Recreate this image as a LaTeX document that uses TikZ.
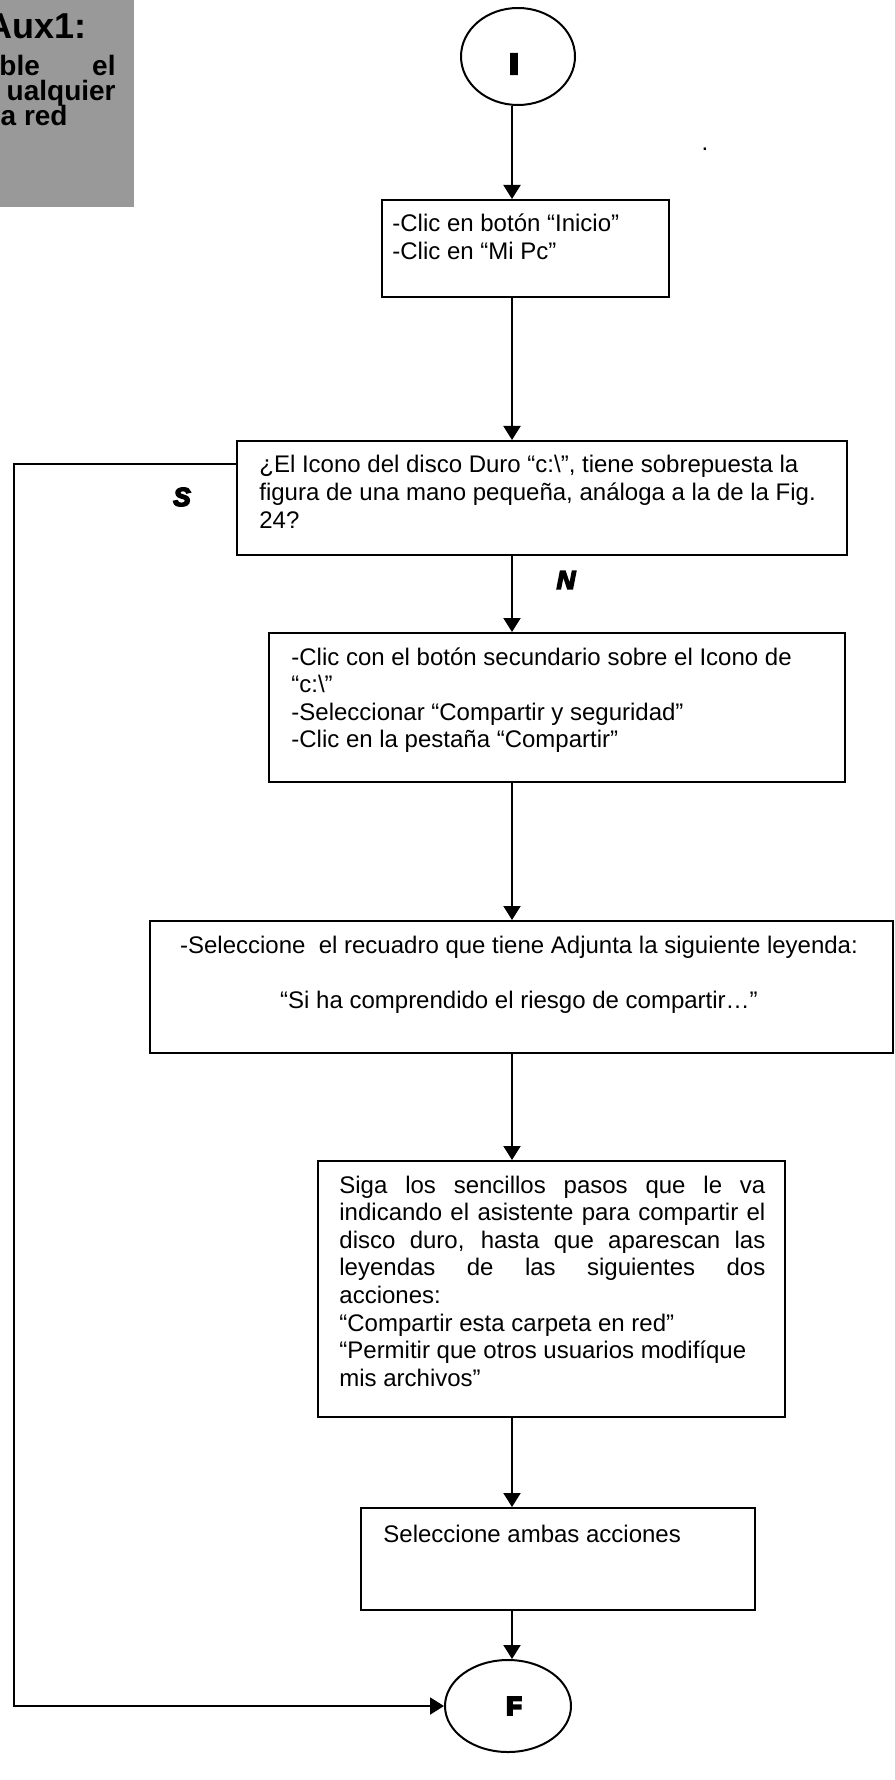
\documentclass[tikz,border=0pt]{standalone}
\usepackage{fontspec}
\setmainfont{Liberation Sans}
\newfontface\heavyface[FakeBold=10]{Liberation Sans Bold}
\newfontface\heavierface[FakeBold=16]{Liberation Sans Bold}
\newfontface\heavyslant[FakeBold=6]{Liberation Sans Bold Italic}
\usetikzlibrary{arrows.meta,shapes.geometric,fit}
\definecolor{panelgray}{RGB}{153,153,153}

\tikzset{
  stepbox/.style={draw, line width=1pt, inner sep=0pt},
  terminal/.style={draw, ellipse, line width=1pt, inner sep=0pt},
  flow/.style={line width=1pt, -{Triangle[length=7pt,width=8.5pt]}},
  body/.style={inner sep=0pt, font=\fontsize{12}{13.8}\selectfont},
  panel/.style={inner sep=0pt, font=\fontsize{14}{16}\selectfont\bfseries},
  endmark/.style={inner sep=0pt, font=\fontsize{12.5}{14}\selectfont\heavyface},
  branch/.style={inner sep=0pt, font=\fontsize{13}{15}\selectfont\heavyslant},
}

\begin{document}
\begin{tikzpicture}[x=0.5pt, y=-0.5pt]
  \useasboundingbox (0,0) rectangle (894,1780);
  \clip (0,0) rectangle (894,1780);

  % clipped title panel in the corner
  \fill[panelgray] (0,0) rectangle (134,207);
  \node[inner sep=0pt, font=\fontsize{18}{20}\selectfont\bfseries, anchor=base east] (aux) at (87,39) {Aux1:};
  \node[panel, anchor=base west] (ble) at (-1,76) {ble};
  \node[panel, anchor=base east] (el) at (116,76) {el};
  \node[panel, anchor=base east] (ualq) at (116,101) {ualquier};
  \node[panel, anchor=base east] (ared) at (68,126) {a red};

  % vertical axis of the main flow
  \coordinate (axis) at (512,0);

  % start
  \node[terminal, minimum width=57pt, minimum height=48.5pt] (I) at (518,56.5) {};
  \node[inner sep=0pt, font=\fontsize{13}{15}\selectfont\heavierface] (Itext) at (514,64) {I};
  \node[body, anchor=base] (dot) at (705,151) {.};

  % step boxes
  \node[stepbox, fit={(382,200) (669,297)}] (b1) {};
  \node[body, anchor=base west] (t1) at (392,232)
    {\parbox[t]{135pt}{-Clic en botón “Inicio”\\-Clic en “Mi Pc”}};

  \node[stepbox, fit={(237,441) (847,555)}] (b2) {};
  \node[body, anchor=base west] (t2) at (259,473)
    {\parbox[t]{292pt}{¿El Icono del disco Duro “c:\textbackslash”, tiene sobrepuesta la\\
      figura de una mano pequeña, análoga a la de la Fig.\\24?}};

  \node[stepbox, fit={(269,633) (845,782)}] (b3) {};
  \node[body, anchor=base west] (t3) at (291,665)
    {\parbox[t]{272pt}{-Clic con el botón secundario sobre el Icono de\\
      “c:\textbackslash”\\-Seleccionar “Compartir y seguridad”\\-Clic en la pestaña “Compartir”}};

  \node[stepbox, fit={(150,921) (893,1053)}] (b4) {};
  \node[body, anchor=base] (t4) at (519,953)
    {\parbox[t]{345pt}{\centering -Seleccione\ \ el recuadro que tiene Adjunta la siguiente leyenda:\\[13.8pt]
      “Si ha comprendido el riesgo de compartir…”}};

  \node[stepbox, fit={(318,1161) (785,1417)}] (b5) {};
  \node[body, anchor=base west] (t5) at (339,1193)
    {\parbox[t]{213pt}{\tolerance=9999 \hyphenpenalty=10000
      Siga los sencillos pasos que le va\linebreak
      indicando el asistente para compartir el\linebreak
      disco duro, hasta que aparescan las\linebreak
      leyendas de las siguientes dos\linebreak
      acciones:\\
      “Compartir esta carpeta en red”\\
      “Permitir que otros usuarios modifíque\\
      mis archivos”}};

  \node[stepbox, fit={(361,1508) (755,1610)}] (b6) {};
  \node[body, anchor=base west] (t6) at (383,1542) {Seleccione ambas acciones};

  % end
  \node[terminal, minimum width=63pt, minimum height=46pt] (F) at (508,1706) {};
  \node[endmark] (Ftext) at (514,1706) {F};

  % branch labels
  \node[branch] (yes) at (182,497) {S};
  \node[branch] (no) at (566,580) {N};

  % main connectors
  \draw[flow] (I.south -| axis) -- (b1.north -| axis);
  \draw[flow] (b1.south -| axis) -- (b2.north -| axis);
  \draw[flow] (b2.south -| axis) -- (b3.north -| axis);
  \draw[flow] (b3.south -| axis) -- (b4.north -| axis);
  \draw[flow] (b4.south -| axis) -- (b5.north -| axis);
  \draw[flow] (b5.south -| axis) -- (b6.north -| axis);
  \draw[flow] (b6.south -| axis) -- (F.north -| axis);

  % "yes" branch around the left side
  \coordinate (loopA) at (14,464);
  \coordinate (loopB) at (14,1706);
  \draw[flow] (b2.west |- loopA) -- (loopA) -- (loopB) -- (F.west);
\end{tikzpicture}
\end{document}
